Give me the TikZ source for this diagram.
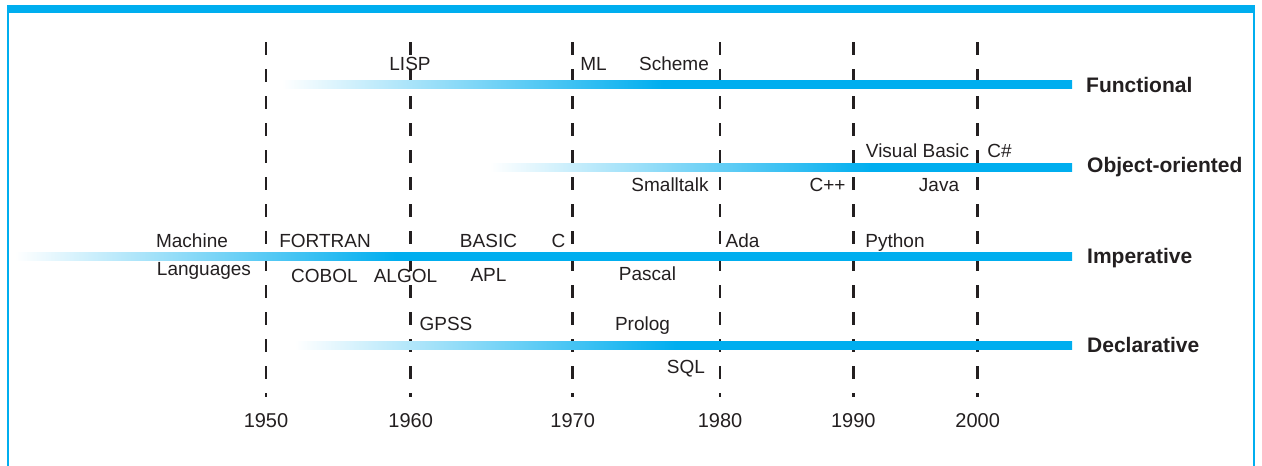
\documentclass[tikz,border=0pt]{standalone}
\usepackage{fontspec}
\setmainfont{Liberation Sans}
\usepackage{xcolor}
\usetikzlibrary{positioning}
\definecolor{paraBlue}{HTML}{00AEEF}
\definecolor{ink}{HTML}{231F20}
\tikzset{
  lang/.style={anchor=base, inner sep=0pt, font=\fontsize{19}{19}\selectfont, text=ink},
  year/.style={anchor=base, inner sep=0pt, font=\fontsize{20}{20}\selectfont, text=ink},
  paradigm/.style={anchor=base west, inner sep=0pt, font=\fontsize{21}{21}\selectfont\bfseries, text=ink},
  era/.style={draw=ink, line width=2.6pt, dash pattern=on 13pt off 14pt},
  frame/.style={draw=paraBlue, line width=1.5pt},
}

\begin{document}
\begin{tikzpicture}[x=1pt, y=-1pt]
\useasboundingbox (0,0) rectangle (1262,466);
% frame
\fill[paraBlue] (7,5) rectangle (1255,12.5);
\draw[frame] (8,12) -- (8,466);
\draw[frame] (1254,12) -- (1254,466);
% decades
\foreach \yr/\x in {1950/266, 1960/410.7, 1970/572.7, 1980/720, 1990/853.3, 2000/977.7} {
  \node[year] (y\yr) at (\x,427) {\yr};
  \draw[era] (\x,42) -- (\x,397);
}
% paradigm bars
\foreach \s/\y in {282/84, 490/167, 15/256, 295/345} {
  \shade[left color=paraBlue, right color=paraBlue] (\s+380,\y-4) rectangle (1072,\y+4);
  \shade[left color=white, middle color=paraBlue!72, right color=paraBlue] (\s,\y-4) rectangle (\s+381,\y+4);
}
\node[paradigm] (fun) at (1086,92) {Functional};
\node[paradigm] (oo) at (1087,172) {Object-oriented};
\node[paradigm] (imp) at (1087,263) {Imperative};
\node[paradigm] (dec) at (1087,352) {Declarative};
% functional
\node[lang] (lisp) at (410,70) {LISP};
\node[lang] (ml) at (593.5,70) {ML};
\node[lang] (scheme) at (674,70) {Scheme};
% object-oriented
\node[lang] (vb) at (917.5,157) {Visual Basic};
\node[lang] (cs) at (999.5,157) {C\#};
\node[lang] (st) at (670,191) {Smalltalk};
\node[lang] (cpp) at (827.5,191) {C++};
\node[lang] (java) at (939,191) {Java};
% imperative
\node[lang] (mach) at (192,247) {Machine};
\node[lang] (machl) at (204,275) {Languages};
\node[lang] (fortran) at (325,247) {FORTRAN};
\node[lang] (basic) at (488.5,247) {BASIC};
\node[lang] (c) at (558.5,247) {C};
\node[lang] (ada) at (742.5,247) {Ada};
\node[lang] (python) at (895,247) {Python};
\node[lang] (cobol) at (324.5,282) {COBOL};
\node[lang] (algol) at (405.5,282) {ALGOL};
\node[lang] (apl) at (488.5,281) {APL};
\node[lang] (pascal) at (647.5,280) {Pascal};
% declarative
\node[lang] (gpss) at (446,330) {GPSS};
\node[lang] (prolog) at (642.5,330) {Prolog};
\node[lang] (sql) at (686,373) {SQL};
\end{tikzpicture}
\end{document}
